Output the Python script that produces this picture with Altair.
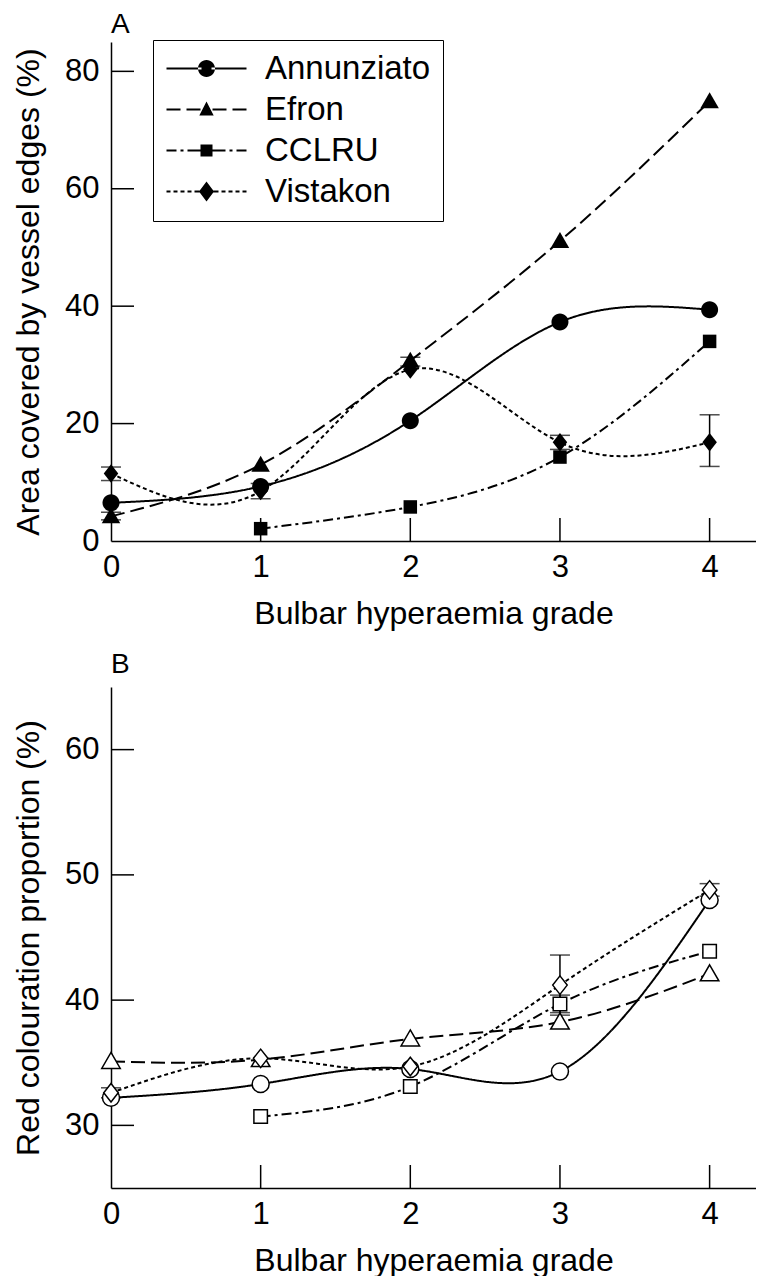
import altair as alt
import pandas as pd

FONT = "Liberation Sans"

grades = [0, 1, 2, 3, 4]
series_names = ["Annunziato", "Efron", "CCLRU", "Vistakon"]

# Panel A: area covered by vessel edges (%)
a_annunziato = [6.5, 9.3, 20.5, 37.3, 39.4]
a_efron = [4.2, 13.0, 30.7, 51.1, 74.9]
a_cclru = [None, 2.1, 5.8, 14.3, 34.0]
a_vistakon = [11.5, 8.5, 29.2, 16.8, 16.8]

# Panel B: red colouration proportion (%)
b_annunziato = [32.2, 33.3, 34.5, 34.3, 48.0]
b_efron = [35.1, 35.25, 36.9, 38.25, 42.1]
b_cclru = [None, 30.7, 33.1, 39.7, 43.9]
b_vistakon = [32.6, 35.35, 34.7, 41.2, 48.8]

# Error bars
a_err_series = ["Vistakon", "Vistakon", "Efron", "Efron", "Vistakon", "Vistakon"]
a_err_grade = [0, 1, 0, 2, 3, 4]
a_err_low = [10.3, 7.2, 3.6, 29.8, 15.6, 12.7]
a_err_high = [12.6, 9.8, 4.9, 31.3, 18.0, 21.5]

b_err_series = ["Vistakon", "Vistakon", "CCLRU", "Vistakon"]
b_err_grade = [0, 3, 3, 4]
b_err_low = [32.2, 38.8, 39.0, 48.3]
b_err_high = [33.0, 43.6, 40.4, 49.3]

x_tick_values = [1, 2, 3, 4]
a_y_ticks = [20, 40, 60, 80]
b_y_ticks = [30, 40, 50, 60]
a_y_labels = [0, 20, 40, 60, 80]
b_y_labels = [30, 40, 50, 60]

dash_patterns = [[1, 0], [14, 6], [10, 4, 3, 4], [4, 3]]

marker_paths = [
    "M-1.7,0A1.7,1.7 0 1,0 1.7,0A1.7,1.7 0 1,0 -1.7,0Z",
    "M0,-1.8L1.85,1.4L-1.85,1.4Z",
    "M-1.35,-1.35H1.35V1.35H-1.35Z",
    "M0,-1.85L1.45,0L0,1.85L-1.45,0Z",
]


# ---- legend symbols (fill only): short dashed line pieces + marker in the middle ----
def seg_path(segs, t=0.1):
    return "".join(f"M{a:.2f},{-t}H{b:.2f}V{t}H{a:.2f}Z" for a, b in segs)


R = 0.85
circle_m = f"M{-R},0A{R},{R} 0 1,0 {R},0A{R},{R} 0 1,0 {-R},0Z"
tri_m = "M0,-0.8L0.72,0.6L-0.72,0.6Z"
sq_m = "M-0.6,-0.6H0.6V0.6H-0.6Z"
dia_m = "M0,-1L0.75,0L0,1L-0.75,0Z"

legend_paths = [
    seg_path([(-4, -0.5), (0.5, 4)]) + circle_m,
    seg_path([(-4, -2.6), (-2.0, -0.6), (0.6, 2.0), (2.6, 4)]) + tri_m,
    seg_path([(-4, -3), (-2.6, -2.3), (-1.9, -0.5), (0.5, 1.9), (2.3, 2.6), (3, 4)]) + sq_m,
    seg_path([(-4, -3.6), (-3.3, -2.9), (-2.6, -2.2), (-1.9, -1.5), (-1.2, -0.7),
              (0.7, 1.2), (1.5, 1.9), (2.2, 2.6), (2.9, 3.3), (3.6, 4)]) + dia_m,
]


def long_df(vals_by_series):
    rows = []
    for s, vals in zip(series_names, vals_by_series):
        for g, v in zip(grades, vals):
            if v is not None:
                rows.append({"series": s, "grade": g, "value": v})
    return pd.DataFrame(rows)


def err_df(ser, gr, lo, hi):
    return pd.DataFrame({"series": ser, "grade": gr, "lo": lo, "hi": hi})


W = 645
X_DOMAIN = [0, 4.31]


def panel(df, edf, y_domain, y_labels, y_ticks, y_title, H, letter, filled, with_legend, toff):
    xscale = alt.Scale(domain=X_DOMAIN, nice=False, zero=False)
    yscale = alt.Scale(domain=y_domain, nice=False, zero=False)
    xaxis = alt.Axis(title="Bulbar hyperaemia grade", values=grades, ticks=False, grid=False,
                     domainColor="black", domainWidth=1.5, labelFlush=False,
                     labelPadding=11, titlePadding=16, format="d")
    yaxis = alt.Axis(title=y_title, values=y_labels, ticks=False, grid=False,
                     domainColor="black", domainWidth=1.5, labelFlush=False,
                     labelPadding=12, titlePadding=19, format="d")
    X = alt.X("grade:Q", scale=xscale, axis=xaxis)
    Y = alt.Y("value:Q", scale=yscale, axis=yaxis)

    base = alt.Chart(df)
    lines = base.mark_line(interpolate="natural", strokeWidth=2, color="black").encode(
        x=X, y=Y,
        strokeDash=alt.StrokeDash("series:N", scale=alt.Scale(domain=series_names, range=dash_patterns),
                                  legend=None),
    )
    err_rule = alt.Chart(edf).mark_rule(color="black", strokeWidth=1.5).encode(
        x=X, y=alt.Y("lo:Q", scale=yscale, axis=yaxis), y2="hi:Q")
    err_lo = alt.Chart(edf).mark_tick(orient="horizontal", color="black", thickness=1.5, size=20).encode(
        x=X, y=alt.Y("lo:Q", scale=yscale, axis=yaxis))
    err_hi = alt.Chart(edf).mark_tick(orient="horizontal", color="black", thickness=1.5, size=20).encode(
        x=X, y=alt.Y("hi:Q", scale=yscale, axis=yaxis))

    if filled:
        pts = base.mark_point(filled=True, color="black", opacity=1, size=100)
    else:
        pts = base.mark_point(filled=True, fill="white", stroke="black", strokeWidth=1.5,
                              opacity=1, fillOpacity=1, size=100)
    points = pts.encode(
        x=X, y=Y,
        shape=alt.Shape("series:N", scale=alt.Scale(domain=series_names, range=marker_paths), legend=None),
    )

    ytk = alt.Chart(pd.DataFrame({"value": y_ticks})).mark_rule(color="black", strokeWidth=1.5).encode(
        y=Y, x=alt.value(0), x2=alt.value(23))
    xtk = alt.Chart(pd.DataFrame({"grade": x_tick_values})).mark_rule(color="black", strokeWidth=1.5).encode(
        x=X, y=alt.value(H), y2=alt.value(H - 23))

    layers = [lines, err_rule, err_lo, err_hi, points, ytk, xtk]
    if with_legend:
        leg = base.transform_filter("false").mark_point(filled=True, color="black").encode(
            x=X, y=Y,
            shape=alt.Shape("series:N", scale=alt.Scale(domain=series_names, range=legend_paths),
                            legend=alt.Legend(title=None, orient="none", legendX=42, legendY=-2,
                                              symbolSize=400, symbolStrokeWidth=0,
                                              symbolFillColor="black",
                                              symbolOpacity=1, labelFont=FONT, labelFontSize=33,
                                              labelColor="black", padding=12, symbolOffset=25,
                                              labelOffset=42, rowPadding=7,
                                              strokeColor="black", fillColor="white",
                                              labelLimit=400)),
        )
        layers.append(leg)
    ch = alt.layer(*layers).resolve_scale(shape="independent").properties(
        width=W, height=H,
        title=alt.TitleParams(letter, anchor="start", frame="group", fontSize=28, font=FONT,
                              fontWeight="normal", color="black", offset=toff),
    )
    return ch


dfa = long_df([a_annunziato, a_efron, a_cclru, a_vistakon])
dfb = long_df([b_annunziato, b_efron, b_cclru, b_vistakon])
ea = err_df(a_err_series, a_err_grade, a_err_low, a_err_high)
eb = err_df(b_err_series, b_err_grade, b_err_low, b_err_high)

A = panel(dfa, ea, [0, 85], a_y_labels, a_y_ticks, "Area covered by vessel edges (%)", 499, "A",
          True, True, 1)
B = panel(dfb, eb, [25, 65], b_y_labels, b_y_ticks, "Red colouration proportion (%)", 501, "B",
          False, False, 8)

chart = alt.vconcat(A, B, spacing=22).resolve_scale(shape="independent", strokeDash="independent").properties(
    padding={"left": 4, "top": 2, "right": 0, "bottom": 0}
).configure_view(stroke=None).configure_axis(
    labelFont=FONT, titleFont=FONT, labelFontSize=31, titleFontSize=32,
    titleFontWeight="normal", labelColor="black", titleColor="black",
)

chart.save("out.html", embed_options={"renderer": "svg", "actions": False})
